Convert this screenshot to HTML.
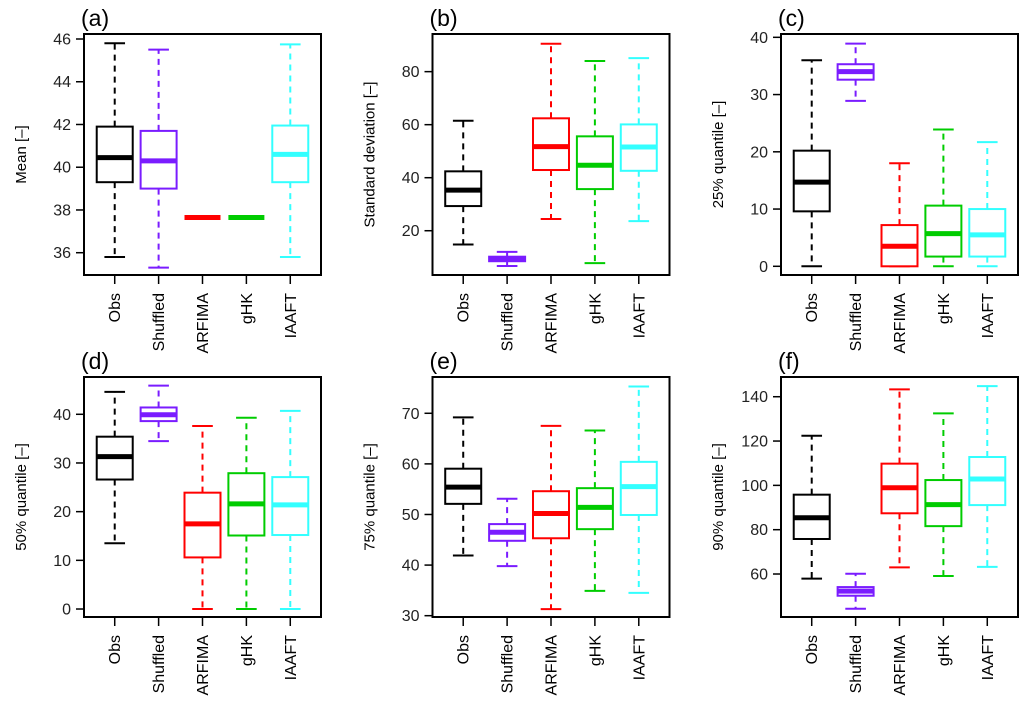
<!DOCTYPE html>
<html><head><meta charset="utf-8"><style>
body{margin:0;background:#fff}
svg{display:block;font-family:"Liberation Sans",sans-serif}
</style></head><body>
<svg id="fig" width="1024" height="707" viewBox="0 0 1024 707"></svg>
<script>
const categories = ["Obs","Shuffled","ARFIMA","gHK","IAAFT"];
const colors = ["#000000","#7a1cff","#ff0000","#00cc00","#33ffff"];
const panelLabels = ["(a)","(b)","(c)","(d)","(e)","(f)"];
const yTitles = ["Mean [\u2013]","Standard deviation [\u2013]","25% quantile [\u2013]","50% quantile [\u2013]","75% quantile [\u2013]","90% quantile [\u2013]"];
// stats per category: [lowWhisker, q1, median, q3, highWhisker]
const statsA = [[35.8,39.3,40.45,41.9,45.8],[35.3,39.0,40.3,41.7,45.5],[37.65,37.65,37.65,37.65,37.65],[37.65,37.65,37.65,37.65,37.65],[35.8,39.3,40.6,41.95,45.75]];
const statsB = [[14.8,29.3,35.3,42.4,61.5],[6.7,8.5,9.3,10.2,12.0],[24.4,42.9,51.7,62.4,90.5],[7.8,35.7,44.7,55.6,84.0],[23.6,42.6,51.6,60.1,85.1]];
const statsC = [[0,9.6,14.7,20.2,36.0],[28.9,32.6,34.0,35.3,38.9],[0,0,3.5,7.2,18.0],[0,1.7,5.7,10.6,23.9],[0,1.7,5.5,10.0,21.7]];
const statsD = [[13.5,26.6,31.3,35.4,44.6],[34.5,38.6,39.9,41.4,45.9],[0,10.6,17.5,23.9,37.6],[0,15.1,21.6,27.9,39.3],[0,15.2,21.4,27.1,40.7]];
const statsE = [[41.9,52.1,55.4,59.05,69.2],[39.8,44.8,46.5,48.1,53.1],[31.3,45.3,50.2,54.6,67.5],[34.9,47.1,51.4,55.2,66.6],[34.5,49.9,55.5,60.4,75.3]];
const statsF = [[57.9,75.8,85.4,95.8,122.4],[44.3,50.2,52.3,54.1,60.1],[63.0,87.4,98.9,109.8,143.3],[59.1,81.6,91.3,102.4,132.5],[63.2,91.1,102.9,112.8,144.8]];
const ticksA = [36,38,40,42,44,46];
const ticksB = [20,40,60,80];
const ticksC = [0,10,20,30,40];
const ticksD = [0,10,20,30,40];
const ticksE = [30,40,50,60,70];
const ticksF = [60,80,100,120,140];
const domains = [[34.957,46.234],[3.3,94.2],[-1.52,40.58],[-1.64,47.66],[29.74,77.17],[40.6,148.9]];

const allStats=[statsA,statsB,statsC,statsD,statsE,statsF];
const allTicks=[ticksA,ticksB,ticksC,ticksD,ticksE,ticksF];
const svg=document.getElementById('fig');
const NS="http://www.w3.org/2000/svg";
function mk(tag,attrs,parent){const e=document.createElementNS(NS,tag);for(const k in attrs)e.setAttribute(k,attrs[k]);(parent||svg).appendChild(e);return e;}
const lefts=[84,432.5,781], tops=[34,377], W=237, H=[241,240];
for(let p=0;p<6;p++){
  const col=p%3,row=Math.floor(p/3);
  const L=lefts[col],T=tops[row],h=H[row];
  const [vmin,vmax]=domains[p];
  const y=v=>T+(vmax-v)/(vmax-vmin)*h;
  const unit=W/5.4;
  const x=i=>L+(i+1-0.3)*unit;
  const g=mk('g',{});
  
  
  const lab=mk('text',{x:L-3,y:T-8,'font-size':23,fill:'#000'},g);lab.textContent=panelLabels[p];
  
  
  const yt=mk('text',{transform:`translate(${L-58},${T+h/2}) rotate(-90)`,'text-anchor':'middle','font-size':15,fill:'#000'},g);yt.textContent=yTitles[p];
  
  
  allTicks[p].forEach(t=>{
    const yy=y(t);
    mk('line',{x1:L-8,x2:L,y1:yy,y2:yy,stroke:'#000','stroke-width':1.5},g);
    const tl=mk('text',{x:L-13,y:yy+5.5,'text-anchor':'end','font-size':16,fill:'#222'},g);tl.textContent=t;
    
    
  });
  categories.forEach((c,i)=>{
    const xx=x(i);
    mk('line',{x1:xx,x2:xx,y1:T+h,y2:T+h+9,stroke:'#000','stroke-width':1.5},g);
    const cl=mk('text',{transform:`translate(${xx+5.5},${T+h+18}) rotate(-90)`,'text-anchor':'end','font-size':16,fill:'#000'},g);cl.textContent=c;
    
    
    const s=allStats[p][i],col2=colors[i],bw=unit*0.41,cw=unit*0.235;
    const bg=mk('g',{},g);
    
    
    mk('line',{x1:xx,x2:xx,y1:y(s[3]),y2:y(s[4]),stroke:col2,'stroke-width':2,'stroke-dasharray':'6,5'},bg);
    mk('line',{x1:xx,x2:xx,y1:y(s[1]),y2:y(s[0]),stroke:col2,'stroke-width':2,'stroke-dasharray':'6,5'},bg);
    mk('line',{x1:xx-cw,x2:xx+cw,y1:y(s[4]),y2:y(s[4]),stroke:col2,'stroke-width':2},bg);
    mk('line',{x1:xx-cw,x2:xx+cw,y1:y(s[0]),y2:y(s[0]),stroke:col2,'stroke-width':2},bg);
    mk('rect',{x:xx-bw,y:y(s[3]),width:2*bw,height:Math.max(0,y(s[1])-y(s[3])),fill:'#fff',stroke:col2,'stroke-width':2},bg);
    mk('line',{x1:xx-bw,x2:xx+bw,y1:y(s[2]),y2:y(s[2]),stroke:col2,'stroke-width':5},bg);
  });
  mk('rect',{x:L,y:T,width:W,height:h,fill:'none',stroke:'#000','stroke-width':2},g);
}
</script>
</body></html>
